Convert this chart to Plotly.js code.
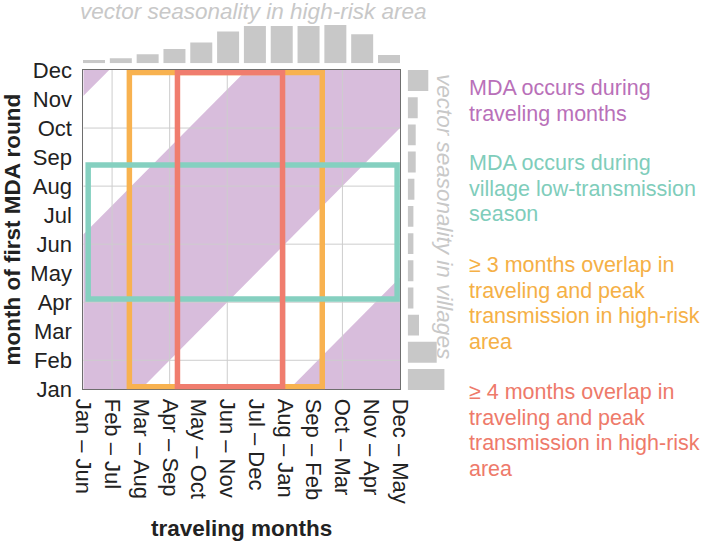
<!DOCTYPE html>
<html><head><meta charset="utf-8">
<script src="https://cdn.plot.ly/plotly-3.0.1.min.js"></script>
<style>html,body{margin:0;padding:0;background:#fff}</style>
</head><body><div id="chart" style="width:707px;height:541px"></div>
<script>
// ---- data ----
const travelLabels = ["Jan – Jun","Feb – Jul","Mar – Aug","Apr – Sep","May – Oct","Jun – Nov",
                      "Jul – Dec","Aug – Jan","Sep – Feb","Oct – Mar","Nov – Apr","Dec – May"];
const mdaMonths = ["Jan","Feb","Mar","Apr","May","Jun","Jul","Aug","Sep","Oct","Nov","Dec"];
const monthIdx = [0,1,2,3,4,5,6,7,8,9,10,11];
// vector seasonality (relative), Jan..Dec
const highRiskSeason = [3.3,5,9,14.3,20.7,31.7,37.3,37.3,37.3,38.3,29,8.3];
const villageSeason  = [36.7,29,11.3,5.7,5.7,5.7,5.7,6.7,8,8,10,20.6];
// MDA during traveling months (purple band, data coords)
const bandX = [0,5.67,11,11,2,0];
const bandY = [5.33,11,11,9,0,0];
const cornerTopX = [0,0,0.9];
const cornerTopY = [10.1,11,11];
const cornerBotX = [7.15,11,11];
const cornerBotY = [0,0,3.85];
// boxes
const lowTransX = [0.17,10.9];  const lowTransY = [3.11,7.73];
const overlap3X = [1.6,8.3];    const overlap3Y = [0.09,10.91];
const overlap4X = [3.27,6.92];  const overlap4Y = [0.09,10.91];
const gridPos = [1,3,5,7,9];
const legendLines = [
  ["MDA occurs during","traveling months"],
  ["MDA occurs during","village low-transmission","season"],
  ["≥ 3 months overlap in","traveling and peak","transmission in high-risk","area"],
  ["≥ 4 months overlap in","traveling and peak","transmission in high-risk","area"]
];
const legendTop = [88,163,265,392];

// ---- styles ----
const FONT = "Liberation Sans, Arial, sans-serif";
const cPurpleFill = "rgb(216,189,220)";
const cPurpleText = "rgb(185,112,185)";
const cTeal = "rgb(133,208,192)";
const cOrange = "rgb(248,178,80)";
const cRed = "rgb(240,125,110)";
const cGray = "rgb(200,200,200)";
const legendColors = [cPurpleText, "rgb(127,205,187)", "rgb(245,176,70)", "rgb(238,122,106)"];
const W = 707, H = 541;
const px = v => v / W, py = v => (H - v) / H;

function path(xs, ys){
  return xs.map((x,i)=>(i?"L":"M")+x+","+ys[i]).join(" ")+" Z";
}
const shapes = [];
[[bandX,bandY],[cornerTopX,cornerTopY],[cornerBotX,cornerBotY]].forEach(([xs,ys])=>{
  shapes.push({type:"path", xref:"x", yref:"y", path:path(xs,ys), fillcolor:cPurpleFill,
               line:{width:0}, layer:"below"});
});
gridPos.forEach(g=>{
  shapes.push({type:"line", xref:"x", yref:"y", x0:g, x1:g, y0:0, y1:11, line:{color:"rgb(205,205,205)", width:1}, layer:"below"});
  shapes.push({type:"line", xref:"x", yref:"y", x0:0, x1:11, y0:g, y1:g, line:{color:"rgb(205,205,205)", width:1}, layer:"below"});
});
[[overlap3X,overlap3Y,cOrange],[lowTransX,lowTransY,cTeal],[overlap4X,overlap4Y,cRed]].forEach(([xs,ys,c])=>{
  shapes.push({type:"rect", xref:"x", yref:"y", x0:xs[0], x1:xs[1], y0:ys[0], y1:ys[1],
               line:{color:c, width:5.5}, fillcolor:"rgba(0,0,0,0)", layer:"above"});
});

const annotations = [];
legendLines.forEach((lines,k)=>{
  lines.forEach((t,i)=>{
    annotations.push({xref:"paper", yref:"paper", x:px(467), y:py(legendTop[k]+i*25.7),
      xanchor:"left", yanchor:"middle", showarrow:false, text:t,
      font:{family:FONT, size:21.5, color:legendColors[k]}});
  });
});
annotations.push({xref:"paper", yref:"paper", x:px(253), y:py(12), xanchor:"center", yanchor:"middle",
  showarrow:false, text:"<i>vector seasonality in high-risk area</i>", font:{family:FONT, size:22.5, color:cGray}});
annotations.push({xref:"paper", yref:"paper", x:px(444), y:py(216), xanchor:"center", yanchor:"middle",
  showarrow:false, textangle:90, text:"<i>vector seasonality in villages</i>", font:{family:FONT, size:22.5, color:cGray}});

const data = [
  {type:"scatter", x:[0,11], y:[0,11], mode:"markers", marker:{opacity:0}, hoverinfo:"skip", xaxis:"x", yaxis:"y"},
  {type:"bar", x:monthIdx, y:highRiskSeason, width:0.82, marker:{color:cGray}, xaxis:"x3", yaxis:"y3", hoverinfo:"skip"},
  {type:"bar", orientation:"h", y:monthIdx, x:villageSeason, width:0.77, marker:{color:cGray}, xaxis:"x4", yaxis:"y4", hoverinfo:"skip"}
];

const axisCommon = {showgrid:false, zeroline:false, showline:true, mirror:true, linecolor:"rgb(110,110,110)",
  linewidth:1, ticks:"", tickfont:{family:FONT, size:22, color:"#222"}, fixedrange:true};
const layout = {
  width:W, height:H, margin:{l:0,r:0,t:0,b:0}, showlegend:false,
  paper_bgcolor:"#fff", plot_bgcolor:"#fff",
  xaxis:Object.assign({}, axisCommon, {domain:[px(83.3), px(400)], range:[0,11], tickmode:"array",
    tickvals:monthIdx, ticktext:travelLabels, tickangle:90, anchor:"y", ticklabelstandoff:4,
    title:{text:"<b>traveling months</b>", font:{family:FONT, size:22.5, color:"#222"}, standoff:20}}),
  yaxis:Object.assign({}, axisCommon, {domain:[py(389.3), py(70)], range:[0,11], tickmode:"array",
    tickvals:monthIdx, ticktext:mdaMonths, anchor:"x", ticklabelstandoff:6,
    title:{text:"<b>month of first MDA round</b>", font:{family:FONT, size:22.5, color:"#222"}, standoff:6}}),
  xaxis3:{domain:[px(80.6), px(402.4)], range:[-0.5,11.5], visible:false, anchor:"y3", fixedrange:true},
  yaxis3:{domain:[py(63.3), py(23.3)], range:[0,40], visible:false, anchor:"x3", fixedrange:true},
  xaxis4:{domain:[px(407.7), px(447.7)], range:[0,40], visible:false, anchor:"y4", fixedrange:true},
  yaxis4:{domain:[py(393.1), py(66.9)], range:[-0.5,11.5], visible:false, anchor:"x4", fixedrange:true},
  shapes:shapes, annotations:annotations
};
Plotly.newPlot("chart", data, layout, {displayModeBar:false, staticPlot:true});
</script></body></html>
